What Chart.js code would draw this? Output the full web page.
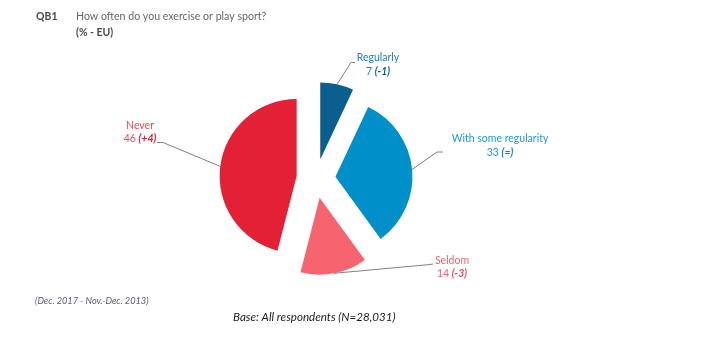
<!DOCTYPE html>
<html>
<head>
<meta charset="utf-8">
<script src="https://cdn.jsdelivr.net/npm/chart.js@4/dist/chart.umd.min.js"></script>
<style>
html,body{margin:0;padding:0;background:#fff;}
#wrap{position:relative;width:711px;height:349px;}
canvas{display:block;}
</style>
</head>
<body>
<div id="wrap"><canvas id="c" width="711" height="349"></canvas></div>
<script>
// ---- data ----
const categories = ['Regularly', 'With some regularity', 'Seldom', 'Never'];
const values = [7, 33, 14, 46];
const changes = ['(-1)', '(=)', '(-3)', '(+4)'];
const sliceColors = ['#0b5f8f', '#0090c9', '#f5646f', '#e32034'];
const labelColors = ['#2b7bb9', '#1f9bd6', '#f5646f', '#ef4a55'];
const changeColors = ['#0b5f8f', '#0090c9', '#e8505b', '#e32034'];

const titleCode = 'QB1';
const titleText = 'How often do you exercise or play sport?';
const subTitle = '(% - EU)';
const periodNote = '(Dec. 2017 - Nov.-Dec. 2013)';
const baseNote = 'Base: All respondents (N=28,031)';

// ---- layout (positions only) ----
const EXPLODE = 19.5;
const FONT = 'Lato, "Liberation Sans", sans-serif';
// label layout: elbow point, horizontal end, text centre x, first line centre y
const labelLayout = [
  {elbow:[351,62.5], end:[355,62.5], tx:378, ty:58},
  {elbow:[437,152], end:[443,152], tx:500, ty:139},
  {elbow:[430,264.5], end:[433,264], tx:452, ty:260.5},
  {elbow:[163,142.5], end:[157,142.5], tx:140, ty:125.5}
];

const explodePlugin = {
  id: 'explode',
  beforeDatasetDraw() { return false; },
  afterDatasetsDraw(chart) {
    const ctx = chart.ctx;
    const meta = chart.getDatasetMeta(0);
    meta.data.forEach(arc => {
      const mid = (arc.startAngle + arc.endAngle) / 2;
      ctx.save();
      ctx.translate(Math.cos(mid) * EXPLODE, Math.sin(mid) * EXPLODE);
      arc.draw(ctx);
      ctx.restore();
    });
  }
};

function textC(ctx, str, x, y, font, color, align) {
  ctx.font = font; ctx.fillStyle = color;
  ctx.textAlign = align || 'left'; ctx.textBaseline = 'middle';
  ctx.fillText(str, x, y);
}

const labelPlugin = {
  id: 'labels',
  afterDraw(chart) {
    const ctx = chart.ctx;
    const meta = chart.getDatasetMeta(0);
    ctx.save();
    meta.data.forEach((arc, i) => {
      const mid = (arc.startAngle + arc.endAngle) / 2;
      const r = arc.outerRadius + EXPLODE;
      const ax = arc.x + Math.cos(mid) * r;
      const ay = arc.y + Math.sin(mid) * r;
      const L = labelLayout[i];
      ctx.strokeStyle = '#808080';
      ctx.lineWidth = 1;
      ctx.beginPath();
      ctx.moveTo(ax, ay);
      ctx.lineTo(L.elbow[0], L.elbow[1]);
      ctx.lineTo(L.end[0], L.end[1]);
      ctx.stroke();
      // line 1
      textC(ctx, categories[i], L.tx, L.ty, '10.5px ' + FONT, labelColors[i], 'center');
      // line 2: value + change
      const f1 = '10.5px ' + FONT, f2 = 'italic bold 10.5px ' + FONT;
      const v = String(values[i]) + ' ';
      ctx.font = f1; const w1 = ctx.measureText(v).width;
      ctx.font = f2; const w2 = ctx.measureText(changes[i]).width;
      const x0 = L.tx - (w1 + w2) / 2;
      const y2 = L.ty + 13.5;
      textC(ctx, v, x0, y2, f1, labelColors[i], 'left');
      textC(ctx, changes[i], x0 + w1, y2, f2, changeColors[i], 'left');
    });
    // titles and notes
    textC(ctx, titleCode, 36, 16.5, 'bold 10.5px ' + FONT, '#4a4a4a');
    textC(ctx, titleText, 76, 16.5, '10.6px ' + FONT, '#666666');
    textC(ctx, subTitle, 76, 33, 'bold 10.5px ' + FONT, '#4a4a4a');
    textC(ctx, periodNote, 35, 301, 'italic 9.2px ' + FONT, '#5a5a78');
    textC(ctx, baseNote, 233, 317.5, 'italic 11.6px ' + FONT, '#1a1a1a');
    ctx.restore();
  }
};

new Chart(document.getElementById('c'), {
  type: 'pie',
  data: {
    labels: categories,
    datasets: [{
      data: values,
      backgroundColor: sliceColors,
      borderWidth: 0
    }]
  },
  options: {
    responsive: false,
    devicePixelRatio: 1,
    animation: false,
    radius: 77,
    layout: {padding: {left: 0, right: 79, top: 8, bottom: 0}},
    plugins: {legend: {display: false}, tooltip: {enabled: false}}
  },
  plugins: [explodePlugin, labelPlugin]
});
</script>
</body>
</html>
